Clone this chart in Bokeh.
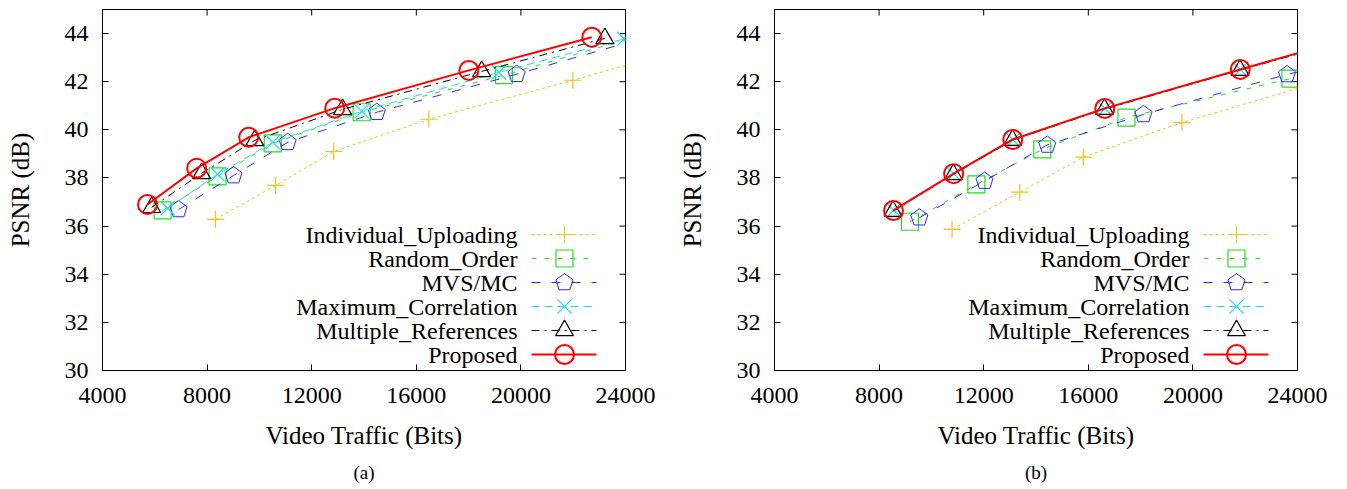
import numpy as np
from bokeh.plotting import figure
from bokeh.models import Range1d, Label, Title, FixedTicker
from bokeh.layouts import row
from bokeh.embed import file_html
from bokeh.resources import INLINE

# ---------------- data ----------------
x_ticks = [4000, 8000, 12000, 16000, 20000, 24000]
y_ticks = [30, 32, 34, 36, 38, 40, 42, 44]
series_names = ["Individual_Uploading", "Random_Order", "MVS/MC",
                "Maximum_Correlation", "Multiple_References", "Proposed"]
x_label = "Video Traffic (Bits)"
y_label = "PSNR (dB)"

# panel (a)
a_individual_x = [8320, 10620, 12840, 16480, 21990, 26000]
a_individual_y = [36.28, 37.69, 39.10, 40.44, 42.06, 43.30]
a_random_x = [6300, 8400, 10510, 13910, 19350, 24500]
a_random_y = [36.65, 38.07, 39.44, 40.73, 42.27, 43.90]
a_mvs_x = [6910, 9010, 11080, 14490, 19840, 24800]
a_mvs_y = [36.69, 38.10, 39.48, 40.73, 42.31, 43.85]
a_maxcorr_x = [6490, 8400, 10510, 13910, 19160, 23950]
a_maxcorr_y = [36.74, 38.15, 39.48, 40.77, 42.39, 43.78]
a_multi_x = [5880, 7790, 9820, 13180, 18500, 23210]
a_multi_y = [36.78, 38.19, 39.56, 40.85, 42.43, 43.80]
a_prop_x = [5720, 7600, 9590, 12880, 18010, 22710]
a_prop_y = [36.90, 38.40, 39.69, 40.90, 42.47, 43.85]

# panel (b)
b_individual_x = [10790, 13380, 15810, 19580, 25500]
b_individual_y = [35.86, 37.41, 38.87, 40.30, 42.20]
b_random_x = [9180, 11720, 14240, 17460, 23730, 28000]
b_random_y = [36.18, 37.73, 39.19, 40.51, 42.13, 43.20]
b_mvs_x = [9540, 12030, 14430, 18110, 23600, 28000]
b_mvs_y = [36.35, 37.87, 39.37, 40.64, 42.30, 43.40]
b_maxcorr_x = [8560, 10860, 13120, 16640, 21820, 26800]
b_maxcorr_y = [36.66, 38.17, 39.58, 40.88, 42.50, 44.02]
b_multi_x = [8530, 10840, 13100, 16620, 21800, 26800]
b_multi_y = [36.62, 38.15, 39.57, 40.86, 42.48, 44.00]
b_prop_x = [8550, 10850, 13110, 16630, 21810, 26800]
b_prop_y = [36.65, 38.18, 39.60, 40.89, 42.51, 44.05]

# ---------------- style ----------------
FONT = "Liberation Serif"
X0, X1, Y0, Y1 = 4000, 24000, 30, 45
FRAME_W, FRAME_H = 523, 361
TICK_LEN = 6

styles = {
    "Individual_Uploading": dict(color="#f2c31c", dash="3 3", marker="cross", size=17, lw=1),
    "Random_Order": dict(color="#22dd22", dash="5 8", marker="square", size=17, lw=1),
    "MVS/MC": dict(color="#2a2aff", dash="9 11", marker="pentagon", size=9, lw=1),
    "Maximum_Correlation": dict(color="#14e0e0", dash="8 5", marker="x", size=20, lw=1),
    "Multiple_References": dict(color="black", dash="8 5 2 5", marker="triangle", size=18, lw=1),
    "Proposed": dict(color="red", dash="solid", marker="circle", size=19, lw=2),
}

LEG_TEXT_X = 415
LEG_LINE = (429, 494)
LEG_MARK = 462
LEG_ROWS = [136, 112, 88, 64, 40, 16]


def sx2d(sx):
    return X0 + sx / FRAME_W * (X1 - X0)


def sy2d(sy):
    return Y0 + sy / FRAME_H * (Y1 - Y0)


def draw_marker(p, xs, ys, st):
    if st["marker"] == "pentagon":
        if hasattr(p, "ngon"):
            p.ngon(x=xs, y=ys, radius=st["size"], radius_units="screen", n=5,
                   angle=0, fill_color=None, line_color=st["color"],
                   line_width=st["lw"])
        else:
            p.scatter(xs, ys, marker="hex", size=17, fill_color=None,
                      line_color=st["color"], line_width=st["lw"])
    else:
        p.scatter(xs, ys, marker=st["marker"], size=st["size"], fill_color=None,
                  line_color=st["color"], line_width=st["lw"] if st["marker"] == "circle" else 1.2)


def make_panel(series, caption, width, bl, br):
    p = figure(width=width, height=486, x_range=Range1d(X0, X1), y_range=Range1d(Y0, Y1),
               output_backend="svg", toolbar_location=None,
               min_border_left=bl, min_border_right=br, min_border_top=9,
               min_border_bottom=116)
    p.grid.visible = False
    p.outline_line_color = "black"
    p.outline_line_width = 1
    for ax in (p.xaxis[0], p.yaxis[0]):
        ax.major_label_text_font = FONT
        ax.major_label_text_font_size = "24px"
        ax.major_label_text_color = "black"
        ax.major_tick_in = TICK_LEN
        ax.major_tick_out = 0
        ax.minor_tick_in = 0
        ax.minor_tick_out = 0
        ax.axis_line_color = "black"
        ax.major_tick_line_color = "black"
    p.xaxis[0].ticker = FixedTicker(ticks=x_ticks)
    p.yaxis[0].ticker = FixedTicker(ticks=y_ticks)
    p.xaxis[0].major_label_standoff = 17
    p.yaxis[0].major_label_standoff = 14

    # y axis title
    p.yaxis[0].axis_label = y_label
    p.yaxis[0].axis_label_text_font = FONT
    p.yaxis[0].axis_label_text_font_size = "25px"
    p.yaxis[0].axis_label_text_font_style = "normal"
    p.yaxis[0].axis_label_text_color = "black"
    p.yaxis[0].axis_label_standoff = 28

    # mirrored inward ticks on the top and right borders (gnuplot style)
    dx = TICK_LEN / FRAME_W * (X1 - X0)
    dy = TICK_LEN / FRAME_H * (Y1 - Y0)
    p.segment(x0=x_ticks, y0=[Y1] * len(x_ticks), x1=x_ticks, y1=[Y1 - dy] * len(x_ticks),
              line_color="black", line_width=1)
    p.segment(x0=[X1] * len(y_ticks), y0=y_ticks, x1=[X1 - dx] * len(y_ticks), y1=y_ticks,
              line_color="black", line_width=1)

    # x axis title and caption
    p.add_layout(Title(text=x_label, align="center", text_font=FONT,
                       text_font_size="25px", text_font_style="normal", text_color="black",
                       standoff=28), "below")
    p.add_layout(Title(text=caption, align="center", text_font=FONT,
                       text_font_size="19px", text_font_style="normal", text_color="black",
                       standoff=-6), "below")

    for name, (xs, ys) in zip(series_names, series):
        st = styles[name]
        p.line(xs, ys, line_color=st["color"], line_dash=st["dash"], line_width=st["lw"])
        draw_marker(p, xs, ys, st)

    # legend (gnuplot style: text on the left, sample on the right)
    for i, name in enumerate(series_names):
        st = styles[name]
        p.add_layout(Label(x=LEG_TEXT_X, y=LEG_ROWS[i], x_units="screen", y_units="screen",
                           text=name, text_font=FONT, text_font_size="24px",
                           text_align="right", text_baseline="middle", text_color="black"))
        ly = sy2d(LEG_ROWS[i])
        p.line([sx2d(LEG_LINE[0]), sx2d(LEG_LINE[1])], [ly, ly], line_color=st["color"],
               line_dash=st["dash"], line_width=st["lw"])
        draw_marker(p, [sx2d(LEG_MARK)], [ly], st)
    return p


series_a = [(a_individual_x, a_individual_y), (a_random_x, a_random_y), (a_mvs_x, a_mvs_y),
            (a_maxcorr_x, a_maxcorr_y), (a_multi_x, a_multi_y), (a_prop_x, a_prop_y)]
series_b = [(b_individual_x, b_individual_y), (b_random_x, b_random_y), (b_mvs_x, b_mvs_y),
            (b_maxcorr_x, b_maxcorr_y), (b_multi_x, b_multi_y), (b_prop_x, b_prop_y)]

pa = make_panel(series_a, "(a)", 674, 102, 49)
pb = make_panel(series_b, "(b)", 664, 100, 41)

layout = row(pa, pb)
open("out.html", "w").write(file_html(layout, INLINE))
